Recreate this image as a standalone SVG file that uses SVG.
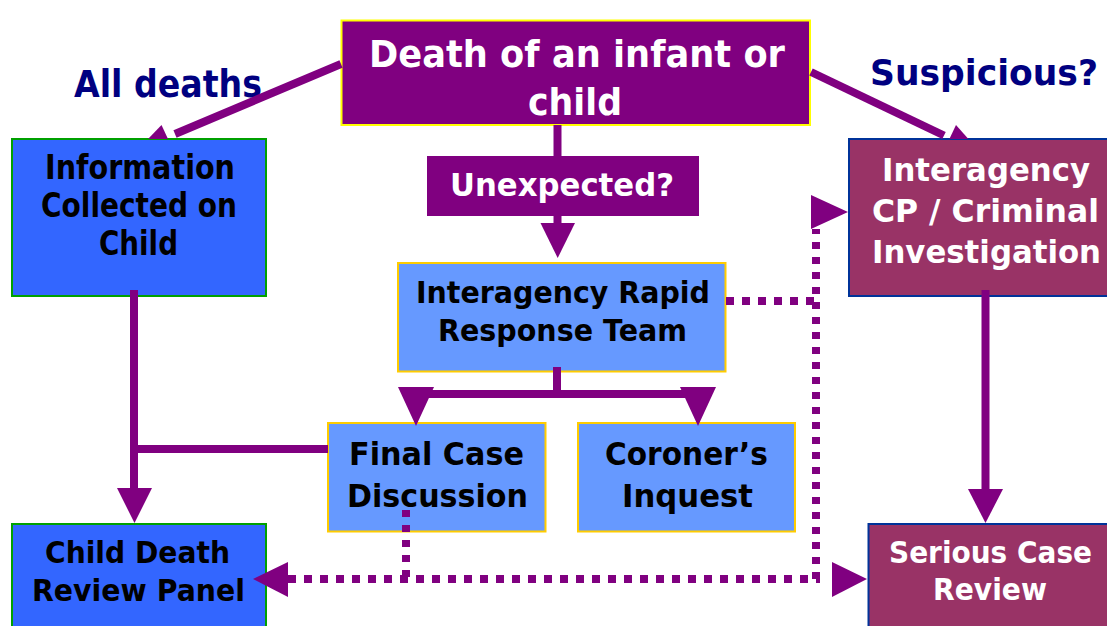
<svg xmlns="http://www.w3.org/2000/svg" width="1107" height="626" viewBox="0 0 1107 626">
<style>
text{font-family:"DejaVu Sans","Liberation Sans",sans-serif;font-weight:bold}
.w{fill:#ffffff}
.k{fill:#000000}
.n{fill:#000080}
.top{fill:#800080;stroke:#ffff00;stroke-width:2}
.q{fill:#800080}
.dk{fill:#3366ff;stroke:#00a000;stroke-width:2}
.lt{fill:#6699ff;stroke:#ffcc00;stroke-width:2}
.rd{fill:#993366;stroke:#003399;stroke-width:2}
.ln{stroke:#800080;stroke-width:8;fill:none;stroke-linecap:butt}
.dh{stroke:#800080;stroke-width:8;fill:none;stroke-dasharray:8 8}
.dv{stroke:#800080;stroke-width:8;fill:none;stroke-dasharray:7 8}
.ah{fill:#800080}
</style>
<g id="node-death">
<rect class="top" x="341.5" y="20.5" width="468.5" height="104.5"/>
<text class="w" x="369" y="66.7" font-size="38" textLength="416" lengthAdjust="spacingAndGlyphs">Death of an infant or</text>
<text class="w" x="528" y="115" font-size="38" textLength="94" lengthAdjust="spacingAndGlyphs">child</text>
</g>
<g id="node-unexpected">
<rect class="q" x="427" y="156" width="272" height="60"/>
<text class="w" x="450" y="196" font-size="31.5" textLength="224" lengthAdjust="spacingAndGlyphs">Unexpected?</text>
</g>
<g id="node-info">
<rect class="dk" x="12" y="139" width="254" height="157"/>
<text class="k" x="45" y="179" font-size="33" textLength="190" lengthAdjust="spacingAndGlyphs">Information</text>
<text class="k" x="41" y="217" font-size="33" textLength="196" lengthAdjust="spacingAndGlyphs">Collected on</text>
<text class="k" x="99" y="255" font-size="33" textLength="79" lengthAdjust="spacingAndGlyphs">Child</text>
</g>
<g id="node-rapid">
<rect class="lt" x="398" y="263" width="327.5" height="108.5"/>
<text class="k" x="416" y="302.7" font-size="30" textLength="294" lengthAdjust="spacingAndGlyphs">Interagency Rapid</text>
<text class="k" x="438" y="340.7" font-size="30" textLength="249" lengthAdjust="spacingAndGlyphs">Response Team</text>
</g>
<g id="node-cp">
<rect class="rd" x="849" y="139" width="274" height="157"/>
<text class="w" x="882" y="181" font-size="31.5" textLength="208" lengthAdjust="spacingAndGlyphs">Interagency</text>
<text class="w" x="872" y="222" font-size="31.5" textLength="227" lengthAdjust="spacingAndGlyphs">CP / Criminal</text>
<text class="w" x="872" y="263" font-size="31.5" textLength="229" lengthAdjust="spacingAndGlyphs">Investigation</text>
</g>
<g id="node-final">
<rect class="lt" x="328" y="423" width="217.5" height="108.5"/>
<text class="k" x="349" y="465" font-size="31.5" textLength="175" lengthAdjust="spacingAndGlyphs">Final Case</text>
<text class="k" x="347" y="506.7" font-size="31.5" textLength="181" lengthAdjust="spacingAndGlyphs">Discussion</text>
</g>
<g id="node-coroner">
<rect class="lt" x="578" y="423" width="217" height="108.5"/>
<text class="k" x="605" y="465" font-size="31.5" textLength="163" lengthAdjust="spacingAndGlyphs">Coroner’s</text>
<text class="k" x="622" y="506.7" font-size="31.5" textLength="131" lengthAdjust="spacingAndGlyphs">Inquest</text>
</g>
<g id="node-cdrp">
<rect class="dk" x="12" y="524" width="254" height="110"/>
<text class="k" x="45" y="563.3" font-size="30" textLength="185" lengthAdjust="spacingAndGlyphs">Child Death</text>
<text class="k" x="32" y="600.7" font-size="30" textLength="213" lengthAdjust="spacingAndGlyphs">Review Panel</text>
</g>
<g id="node-scr">
<rect class="rd" x="868.5" y="524" width="243" height="110"/>
<text class="w" x="889" y="562.7" font-size="29.5" textLength="203" lengthAdjust="spacingAndGlyphs">Serious Case</text>
<text class="w" x="933" y="600" font-size="29.5" textLength="114" lengthAdjust="spacingAndGlyphs">Review</text>
</g>
<g id="labels">
<text class="n" x="74" y="97" font-size="37" textLength="188" lengthAdjust="spacingAndGlyphs">All deaths</text>
<text class="n" x="870" y="85" font-size="36" textLength="228" lengthAdjust="spacingAndGlyphs">Suspicious?</text>
</g>
<g id="connectors">
<line class="ln" x1="341" y1="64" x2="175" y2="134"/>
<polygon class="ah" points="148,139 161.5,125 168,139"/>
<line class="ln" x1="811" y1="72" x2="944" y2="135.5"/>
<polygon class="ah" points="949.4,139 956,125 968.4,139"/>
<line class="ln" x1="557.5" y1="125" x2="557.5" y2="156"/>
<line class="ln" x1="557.5" y1="216" x2="557.5" y2="224"/>
<polygon class="ah" points="540.5,223 575,223 557.7,258"/>
<line class="ln" x1="557" y1="367" x2="557" y2="398"/>
<line class="ln" x1="416" y1="394" x2="698" y2="394"/>
<polygon class="ah" points="398,387 434,387 416,426"/>
<polygon class="ah" points="680,387 716,387 698,426"/>
<line class="ln" x1="134" y1="290" x2="134" y2="490"/>
<polygon class="ah" points="117,488 152,488 134.5,523"/>
<line class="ln" x1="130" y1="449" x2="328" y2="449"/>
<line class="ln" x1="985.5" y1="290" x2="985.5" y2="490"/>
<polygon class="ah" points="968,489 1003,489 985.5,523"/>
<line class="dh" x1="726" y1="301" x2="820" y2="301"/>
<line class="dv" x1="816" y1="579" x2="816" y2="229"/>
<polygon class="ah" points="811,195 811,229 848,212"/>
<line class="dv" x1="406" y1="510" x2="406" y2="583"/>
<line class="dh" x1="288" y1="579" x2="820" y2="579"/>
<polygon class="ah" points="288,562 288,597 253,579"/>
<polygon class="ah" points="832,562 832,597 867,579"/>
</g>
</svg>
